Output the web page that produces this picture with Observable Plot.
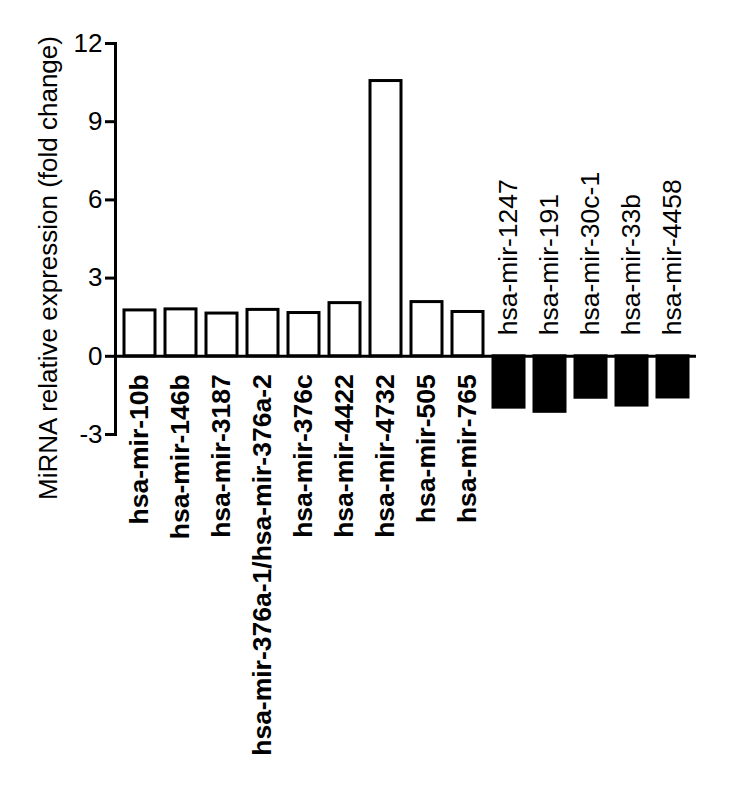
<!DOCTYPE html>
<html>
<head>
<meta charset="utf-8">
<script src="https://cdn.jsdelivr.net/npm/d3@7"></script>
<script src="https://cdn.jsdelivr.net/npm/@observablehq/plot@0.6"></script>
<style>
  html, body { margin: 0; padding: 0; background: #fff; }
  #chart svg { font-family: "Liberation Sans", Arial, sans-serif; display: block; }
</style>
</head>
<body>
<div id="chart"></div>
<script>
// Up-regulated miRNAs (white bars)
const upNames = ["hsa-mir-10b", "hsa-mir-146b", "hsa-mir-3187", "hsa-mir-376a-1/hsa-mir-376a-2",
  "hsa-mir-376c", "hsa-mir-4422", "hsa-mir-4732", "hsa-mir-505", "hsa-mir-765"];
const upValues = [1.76, 1.80, 1.64, 1.78, 1.66, 2.04, 10.56, 2.08, 1.70];
// Down-regulated miRNAs (black bars)
const downNames = ["hsa-mir-1247", "hsa-mir-191", "hsa-mir-30c-1", "hsa-mir-33b", "hsa-mir-4458"];
const downValues = [-1.97, -2.13, -1.59, -1.89, -1.58];
// Axis
const yTicks = [-3, 0, 3, 6, 9, 12];
const yTickLabels = ["-3", "0", "3", "6", "9", "12"];
const yTitle = "MiRNA relative expression (fold change)";

const up = upNames.map((name, i) => ({name, value: upValues[i]}));
const down = downNames.map((name, i) => ({name, value: downValues[i]}));
const all = up.concat(down);

const chart = Plot.plot({
  width: 730,
  height: 791,
  marginTop: 43,
  marginBottom: 357,
  marginLeft: 115,
  marginRight: 34,
  style: {fontFamily: '"Liberation Sans", Arial, sans-serif', background: "#fff", color: "#000", overflow: "visible"},
  x: {type: "band", domain: all.map(d => d.name), paddingInner: 0.25, paddingOuter: 0.145, axis: null},
  y: {domain: [-3, 12]},
  marks: [
    Plot.barY(up, {x: "name", y1: 0, y2: "value", fill: "#fff", stroke: "#000", strokeWidth: 3}),
    Plot.barY(down, {x: "name", y1: 0, y2: "value", fill: "#000", stroke: "#000", strokeWidth: 3}),
    Plot.ruleY([0], {stroke: "#000", strokeWidth: 3}),
    Plot.frame({anchor: "left", stroke: "#000", strokeWidth: 3}),
    Plot.axisY({
      ticks: yTicks,
      tickFormat: (d) => yTickLabels[yTicks.indexOf(d)],
      tickSize: 10,
      tickPadding: 3,
      strokeWidth: 3,
      fontSize: 26,
      label: null
    }),
    Plot.text(up, {x: "name", y: 0, text: "name", rotate: -90, textAnchor: "end",
      dy: 18, fontSize: 26.5, fontWeight: "bold", fill: "#000"}),
    Plot.text(down, {x: "name", y: 0, text: "name", rotate: -90, textAnchor: "start",
      dy: -21, fontSize: 26.5, fill: "#000"}),
    Plot.text([yTitle], {frameAnchor: "left", rotate: -90, textAnchor: "middle", dx: -67, dy: 29,
      fontSize: 26, fill: "#000"})
  ]
});
document.getElementById("chart").appendChild(chart);
</script>
</body>
</html>
